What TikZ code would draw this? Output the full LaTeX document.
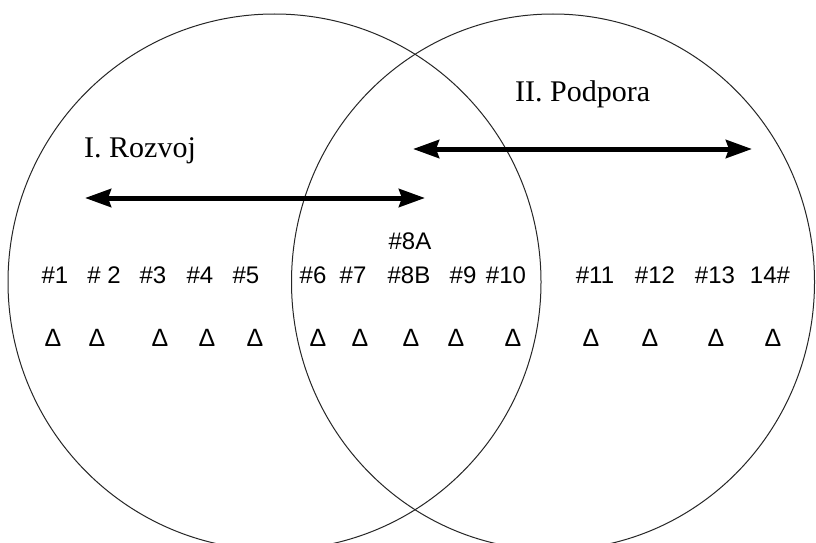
\documentclass[tikz,border=0pt]{standalone}
\usepackage{fontspec}
\setmainfont{Liberation Serif}
\newfontfamily\lblfont{Liberation Sans}
\usetikzlibrary{arrows.meta}

\begin{document}
\begin{tikzpicture}[x=1pt, y=-1pt,
    lbl/.style={font=\lblfont\fontsize{24}{28}\selectfont, inner sep=0pt},
    tri/.style={font=\lblfont\fontsize{25}{28}\selectfont, inner sep=0pt},
    title/.style={font=\fontsize{30}{34}\selectfont, inner sep=0pt, anchor=base west},
    arr/.style={line width=5pt, {Stealth[length=26pt,width=18pt,inset=3pt]}-{Stealth[length=26pt,width=18pt,inset=3pt]}}]
        \useasboundingbox (0,0) rectangle (816,543);
        \fill[white] (0,0) rectangle (816,543);

        % The two overlapping areas
        \draw[line width=1pt, black!85] (274.5,282) ellipse [x radius=266.5, y radius=268];
        \draw[line width=1pt, black!85] (553,282) ellipse [x radius=261.5, y radius=268];

        % Area titles
        \node[title] (rozvoj) at (84,157) {I. Rozvoj};
        \node[title] (podpora) at (515,101) {II. Podpora};

        % Arrow end points
        \coordinate (r1) at (85,198);
        \coordinate (r2) at (425,198);
        \coordinate (p1) at (413,149);
        \coordinate (p2) at (752,149);
        \draw[arr] (r1) -- (r2);
        \draw[arr] (p1) -- (p2);

        % Labels for the steps
        \node[lbl] (s1) at (55,275) {\#1};
        \node[lbl] (s2) at (104,275) {\# 2};
        \node[lbl] (s3) at (153,275) {\#3};
        \node[lbl] (s4) at (200,275) {\#4};
        \node[lbl] (s5) at (246,275) {\#5};
        \node[lbl] (s6) at (313,275) {\#6};
        \node[lbl] (s7) at (353,275) {\#7};
        \node[lbl] (s8a) at (410,241) {\#8A};
        \node[lbl] (s8b) at (409,275) {\#8B};
        \node[lbl] (s9) at (463,275) {\#9};
        \node[lbl] (s10) at (506,275) {\#10};
        \node[lbl] (s11) at (595,275) {\#11};
        \node[lbl] (s12) at (655,275) {\#12};
        \node[lbl] (s13) at (715,275) {\#13};
        \node[lbl] (s14) at (770,275) {14\#};

        % Triangles under the steps
        \node[tri] (t1) at (53,338) {Δ};
        \node[tri] (t2) at (97,338) {Δ};
        \node[tri] (t3) at (160,338) {Δ};
        \node[tri] (t4) at (207,338) {Δ};
        \node[tri] (t5) at (255,338) {Δ};
        \node[tri] (t6) at (318,338) {Δ};
        \node[tri] (t7) at (360,338) {Δ};
        \node[tri] (t8) at (411,338) {Δ};
        \node[tri] (t9) at (456,338) {Δ};
        \node[tri] (t10) at (513,338) {Δ};
        \node[tri] (t11) at (591,338) {Δ};
        \node[tri] (t12) at (650,338) {Δ};
        \node[tri] (t13) at (716,338) {Δ};
        \node[tri] (t14) at (773,338) {Δ};
      \end{tikzpicture}
\end{document}
